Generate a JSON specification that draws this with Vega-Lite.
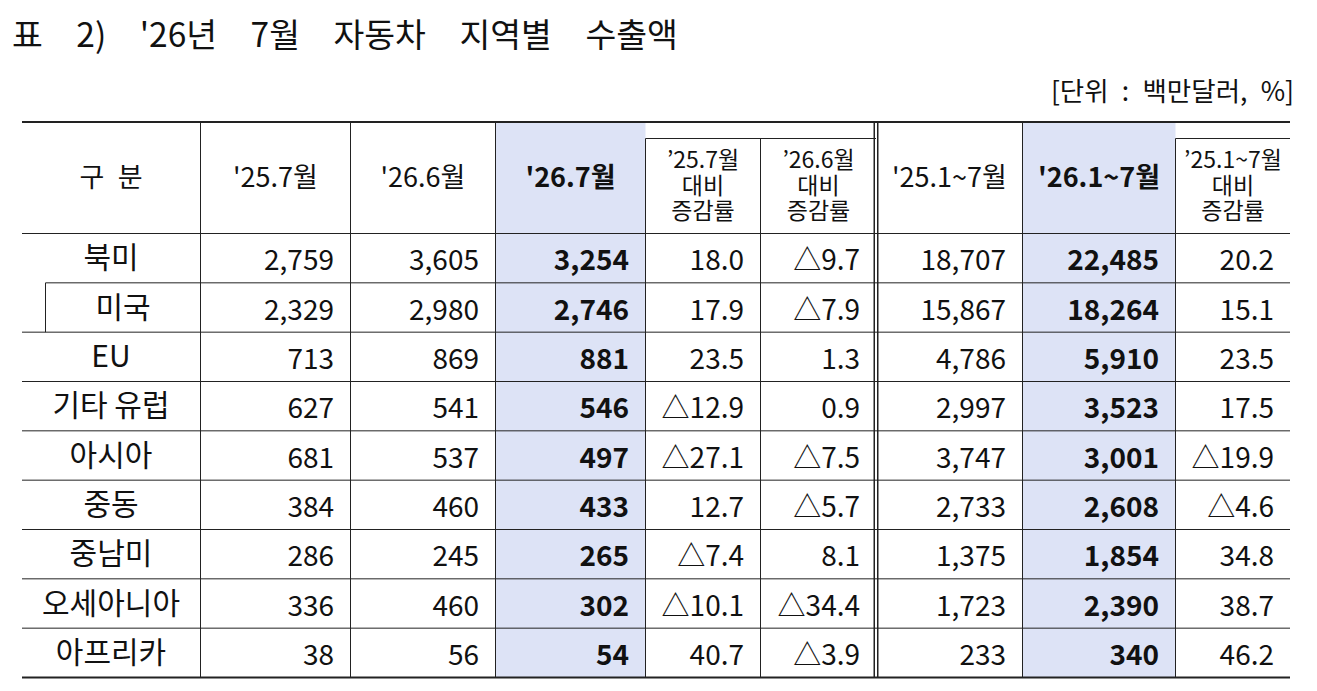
{
  "$schema": "https://vega.github.io/schema/vega-lite/v6.json",
  "width": 1317,
  "height": 691,
  "autosize": "none",
  "padding": 0,
  "background": "white",
  "config": {
    "view": {"stroke": null},
    "text": {"font": "Noto Sans CJK KR", "color": "#111111", "fontSize": 27},
    "locale": {"number": {"decimal": ".", "thousands": ",", "grouping": [3], "currency": ["$", ""], "minus": "△"}}
  },
  "datasets": {
    "exports": [
      {"region": "북미", "level": 1, "m2507": 2759, "m2606": 3605, "m2607": 3254, "chg_m2507": 18.0, "chg_m2606": -9.7, "ytd25": 18707, "ytd26": 22485, "chg_ytd25": 20.2},
      {"region": "미국", "level": 2, "m2507": 2329, "m2606": 2980, "m2607": 2746, "chg_m2507": 17.9, "chg_m2606": -7.9, "ytd25": 15867, "ytd26": 18264, "chg_ytd25": 15.1},
      {"region": "EU", "level": 1, "m2507": 713, "m2606": 869, "m2607": 881, "chg_m2507": 23.5, "chg_m2606": 1.3, "ytd25": 4786, "ytd26": 5910, "chg_ytd25": 23.5},
      {"region": "기타 유럽", "level": 1, "m2507": 627, "m2606": 541, "m2607": 546, "chg_m2507": -12.9, "chg_m2606": 0.9, "ytd25": 2997, "ytd26": 3523, "chg_ytd25": 17.5},
      {"region": "아시아", "level": 1, "m2507": 681, "m2606": 537, "m2607": 497, "chg_m2507": -27.1, "chg_m2606": -7.5, "ytd25": 3747, "ytd26": 3001, "chg_ytd25": -19.9},
      {"region": "중동", "level": 1, "m2507": 384, "m2606": 460, "m2607": 433, "chg_m2507": 12.7, "chg_m2606": -5.7, "ytd25": 2733, "ytd26": 2608, "chg_ytd25": -4.6},
      {"region": "중남미", "level": 1, "m2507": 286, "m2606": 245, "m2607": 265, "chg_m2507": -7.4, "chg_m2606": 8.1, "ytd25": 1375, "ytd26": 1854, "chg_ytd25": 34.8},
      {"region": "오세아니아", "level": 1, "m2507": 336, "m2606": 460, "m2607": 302, "chg_m2507": -10.1, "chg_m2606": -34.4, "ytd25": 1723, "ytd26": 2390, "chg_ytd25": 38.7},
      {"region": "아프리카", "level": 1, "m2507": 38, "m2606": 56, "m2607": 54, "chg_m2507": 40.7, "chg_m2606": -3.9, "ytd25": 233, "ytd26": 340, "chg_ytd25": 46.2}
    ],
    "columns": [
      {"key": "region", "col": 0, "level": 1, "label": "구\u2002분"},
      {"key": "m2507", "col": 1, "level": 1, "label": "'25.7월"},
      {"key": "m2606", "col": 2, "level": 1, "label": "'26.6월"},
      {"key": "m2607", "col": 3, "level": 1, "label": "'26.7월"},
      {"key": "chg_m2507", "col": 4, "level": 2, "label": ["’25.7월", "대비", "증감률"]},
      {"key": "chg_m2606", "col": 5, "level": 2, "label": ["’26.6월", "대비", "증감률"]},
      {"key": "ytd25", "col": 6, "level": 1, "label": "'25.1~7월"},
      {"key": "ytd26", "col": 7, "level": 1, "label": "'26.1~7월"},
      {"key": "chg_ytd25", "col": 8, "level": 2, "label": ["’25.1~7월", "대비", "증감률"]}
    ],
    "highlight": [
      {"from": 3, "to": 4},
      {"from": 7, "to": 8}
    ],
    "rules": [
      {"x": 0, "x2": 9, "y": 0, "y2": 0},
      {"x": 4, "x2": 6, "y": 0.5, "y2": 0.5},
      {"x": 8, "x2": 9, "y": 0.5, "y2": 0.5},
      {"x": 0, "x2": 9, "y": 1, "y2": 1},
      {"x": 0.5, "x2": 9, "y": 2, "y2": 2},
      {"x": 0, "x2": 9, "y": 3, "y2": 3},
      {"x": 0, "x2": 9, "y": 4, "y2": 4},
      {"x": 0, "x2": 9, "y": 5, "y2": 5},
      {"x": 0, "x2": 9, "y": 6, "y2": 6},
      {"x": 0, "x2": 9, "y": 7, "y2": 7},
      {"x": 0, "x2": 9, "y": 8, "y2": 8},
      {"x": 0, "x2": 9, "y": 9, "y2": 9},
      {"x": 0, "x2": 9, "y": 10, "y2": 10},
      {"x": 1, "x2": 1, "y": 0, "y2": 10},
      {"x": 2, "x2": 2, "y": 0, "y2": 10},
      {"x": 3, "x2": 3, "y": 0, "y2": 10},
      {"x": 4, "x2": 4, "y": 0.5, "y2": 10},
      {"x": 5, "x2": 5, "y": 0.5, "y2": 10},
      {"x": 7, "x2": 7, "y": 0, "y2": 10},
      {"x": 8, "x2": 8, "y": 0.5, "y2": 10},
      {"x": 0.5, "x2": 0.5, "y": 2, "y2": 3}
    ]
  },
  "resolve": {"scale": {"x": "independent", "y": "independent"}},
  "layer": [
    {
      "layer": [
        {
          "data": {"name": "highlight"},
          "mark": {"type": "rect", "color": "#dde3f6"},
          "encoding": {
            "x": {"field": "from", "type": "quantitative", "axis": null,
                  "scale": {"domain": [0, 0.5, 1, 2, 3, 4, 5, 6, 7, 8, 9], "range": [22, 45.5, 200.5, 350.5, 495.5, 645.5, 760.5, 876, 1022.5, 1175.5, 1290], "zero": false, "nice": false}},
            "x2": {"field": "to"},
            "y": {"datum": 0, "type": "quantitative", "axis": null,
                  "scale": {"domain": [0, 0.5, 1, 10], "range": [122, 138.5, 233.5, 677.5], "zero": false, "nice": false}},
            "y2": {"datum": 10}
          }
        },
        {
          "data": {"values": [{"line": "double"}]},
          "mark": {"type": "rule", "color": "#222222", "strokeWidth": 5},
          "encoding": {
            "x": {"datum": 6, "type": "quantitative", "axis": null},
            "y": {"datum": 0, "type": "quantitative", "axis": null},
            "y2": {"datum": 10}
          }
        },
        {
          "data": {"values": [{"line": "double"}]},
          "mark": {"type": "rule", "color": "white", "strokeWidth": 2},
          "encoding": {
            "x": {"datum": 6, "type": "quantitative", "axis": null},
            "y": {"datum": 0, "type": "quantitative", "axis": null},
            "y2": {"datum": 10}
          }
        },
        {
          "data": {"name": "rules"},
          "mark": {"type": "rule", "color": "#222222"},
          "encoding": {
            "x": {"field": "x", "type": "quantitative", "axis": null},
            "x2": {"field": "x2"},
            "y": {"field": "y", "type": "quantitative", "axis": null},
            "y2": {"field": "y2"},
            "strokeWidth": {"condition": {"test": "datum.y == datum.y2 && (datum.y == 0 || datum.y == 10)", "value": 2}, "value": 1}
          }
        }
      ]
    },
    {
      "data": {"name": "columns"},
      "transform": [{"filter": "datum.level == 1 && datum.key != 'm2607' && datum.key != 'ytd26'"}],
      "mark": {"type": "text", "align": "center", "baseline": "middle", "fontSize": 27},
      "encoding": {
        "x": {"field": "col", "type": "quantitative", "axis": null,
              "scale": {"domain": [0, 1, 2, 3, 4, 5, 6, 7, 8], "range": [111, 275.5, 423, 570.5, 703, 818.5, 949.5, 1099, 1233], "zero": false, "nice": false}},
        "y": {"field": "level", "type": "quantitative", "axis": null,
              "scale": {"domain": [1, 2], "range": [179, 161], "zero": false, "nice": false}},
        "text": {"field": "label"}
      }
    },
    {
      "data": {"name": "columns"},
      "transform": [{"filter": "datum.key == 'm2607' || datum.key == 'ytd26'"}],
      "mark": {"type": "text", "align": "center", "baseline": "middle", "fontSize": 27, "fontWeight": "bold"},
      "encoding": {
        "x": {"field": "col", "type": "quantitative", "axis": null,
              "scale": {"domain": [0, 1, 2, 3, 4, 5, 6, 7, 8], "range": [111, 275.5, 423, 570.5, 703, 818.5, 949.5, 1099, 1233], "zero": false, "nice": false}},
        "y": {"field": "level", "type": "quantitative", "axis": null,
              "scale": {"domain": [1, 2], "range": [179, 161], "zero": false, "nice": false}},
        "text": {"field": "label"}
      }
    },
    {
      "data": {"name": "columns"},
      "transform": [{"filter": "datum.level == 2"}],
      "mark": {"type": "text", "align": "center", "baseline": "middle", "fontSize": 23, "lineHeight": 25.5},
      "encoding": {
        "x": {"field": "col", "type": "quantitative", "axis": null,
              "scale": {"domain": [0, 1, 2, 3, 4, 5, 6, 7, 8], "range": [111, 275.5, 423, 570.5, 703, 818.5, 949.5, 1099, 1233], "zero": false, "nice": false}},
        "y": {"field": "level", "type": "quantitative", "axis": null,
              "scale": {"domain": [1, 2], "range": [179, 161], "zero": false, "nice": false}},
        "text": {"field": "label"}
      }
    },
    {
      "data": {"name": "exports"},
      "mark": {"type": "text", "align": "center", "baseline": "middle", "fontSize": 30, "dy": 1},
      "encoding": {
        "x": {"field": "level", "type": "quantitative", "axis": null,
              "scale": {"domain": [1, 2], "range": [111, 123], "zero": false, "nice": false}},
        "y": {"field": "region", "type": "nominal", "axis": null,
              "scale": {"type": "band", "domain": ["북미", "미국", "EU", "기타 유럽", "아시아", "중동", "중남미", "오세아니아", "아프리카"], "range": [233.5, 677.5], "paddingInner": 0, "paddingOuter": 0}},
        "text": {"field": "region"}
      }
    },
    {
      "data": {"name": "exports"},
      "transform": [
        {"fold": ["m2507", "m2606", "ytd25"], "as": ["key", "amount"]},
        {"lookup": "key", "from": {"data": {"name": "columns"}, "key": "key", "fields": ["col"]}}
      ],
      "mark": {"type": "text", "align": "right", "baseline": "middle", "dx": -16, "dy": 4, "fontSize": 28},
      "encoding": {
        "x": {"field": "col", "type": "quantitative", "axis": null,
              "scale": {"domain": [0, 1, 2, 3, 4, 5, 6, 7, 8], "range": [200, 350, 495, 645, 760, 876, 1022, 1175, 1290], "zero": false, "nice": false}},
        "y": {"field": "region", "type": "nominal", "axis": null,
              "scale": {"type": "band", "domain": ["북미", "미국", "EU", "기타 유럽", "아시아", "중동", "중남미", "오세아니아", "아프리카"], "range": [233.5, 677.5], "paddingInner": 0, "paddingOuter": 0}},
        "text": {"field": "amount", "type": "quantitative", "format": ","}
      }
    },
    {
      "data": {"name": "exports"},
      "transform": [
        {"fold": ["m2607", "ytd26"], "as": ["key", "amount"]},
        {"lookup": "key", "from": {"data": {"name": "columns"}, "key": "key", "fields": ["col"]}}
      ],
      "mark": {"type": "text", "align": "right", "baseline": "middle", "dx": -16, "dy": 4, "fontSize": 28, "fontWeight": "bold"},
      "encoding": {
        "x": {"field": "col", "type": "quantitative", "axis": null,
              "scale": {"domain": [0, 1, 2, 3, 4, 5, 6, 7, 8], "range": [200, 350, 495, 645, 760, 876, 1022, 1175, 1290], "zero": false, "nice": false}},
        "y": {"field": "region", "type": "nominal", "axis": null,
              "scale": {"type": "band", "domain": ["북미", "미국", "EU", "기타 유럽", "아시아", "중동", "중남미", "오세아니아", "아프리카"], "range": [233.5, 677.5], "paddingInner": 0, "paddingOuter": 0}},
        "text": {"field": "amount", "type": "quantitative", "format": ","}
      }
    },
    {
      "data": {"name": "exports"},
      "transform": [
        {"fold": ["chg_m2507", "chg_m2606", "chg_ytd25"], "as": ["key", "rate"]},
        {"lookup": "key", "from": {"data": {"name": "columns"}, "key": "key", "fields": ["col"]}}
      ],
      "mark": {"type": "text", "align": "right", "baseline": "middle", "dx": -16, "dy": 4, "fontSize": 28},
      "encoding": {
        "x": {"field": "col", "type": "quantitative", "axis": null,
              "scale": {"domain": [0, 1, 2, 3, 4, 5, 6, 7, 8], "range": [200, 350, 495, 645, 760, 876, 1022, 1175, 1290], "zero": false, "nice": false}},
        "y": {"field": "region", "type": "nominal", "axis": null,
              "scale": {"type": "band", "domain": ["북미", "미국", "EU", "기타 유럽", "아시아", "중동", "중남미", "오세아니아", "아프리카"], "range": [233.5, 677.5], "paddingInner": 0, "paddingOuter": 0}},
        "text": {"field": "rate", "type": "quantitative", "format": ".1f"}
      }
    },
    {
      "layer": [
        {
          "data": {"values": [{"caption": "표\u30002)\u3000'26년\u30007월\u3000자동차\u3000지역별\u3000수출액"}]},
          "mark": {"type": "text", "align": "left", "baseline": "middle", "fontSize": 33.5},
          "encoding": {
            "x": {"datum": 0, "type": "quantitative", "axis": null,
                  "scale": {"domain": [0, 1], "range": [12, 1294], "zero": false, "nice": false}},
            "y": {"datum": 0, "type": "quantitative", "axis": null,
                  "scale": {"domain": [0, 1], "range": [37, 93], "zero": false, "nice": false}},
            "text": {"field": "caption"}
          }
        },
        {
          "data": {"values": [{"caption": "[단위\u2002:\u2002백만달러,\u2002%]"}]},
          "mark": {"type": "text", "align": "right", "baseline": "middle", "fontSize": 26.5},
          "encoding": {
            "x": {"datum": 1, "type": "quantitative", "axis": null},
            "y": {"datum": 1, "type": "quantitative", "axis": null},
            "text": {"field": "caption"}
          }
        }
      ]
    }
  ]
}
